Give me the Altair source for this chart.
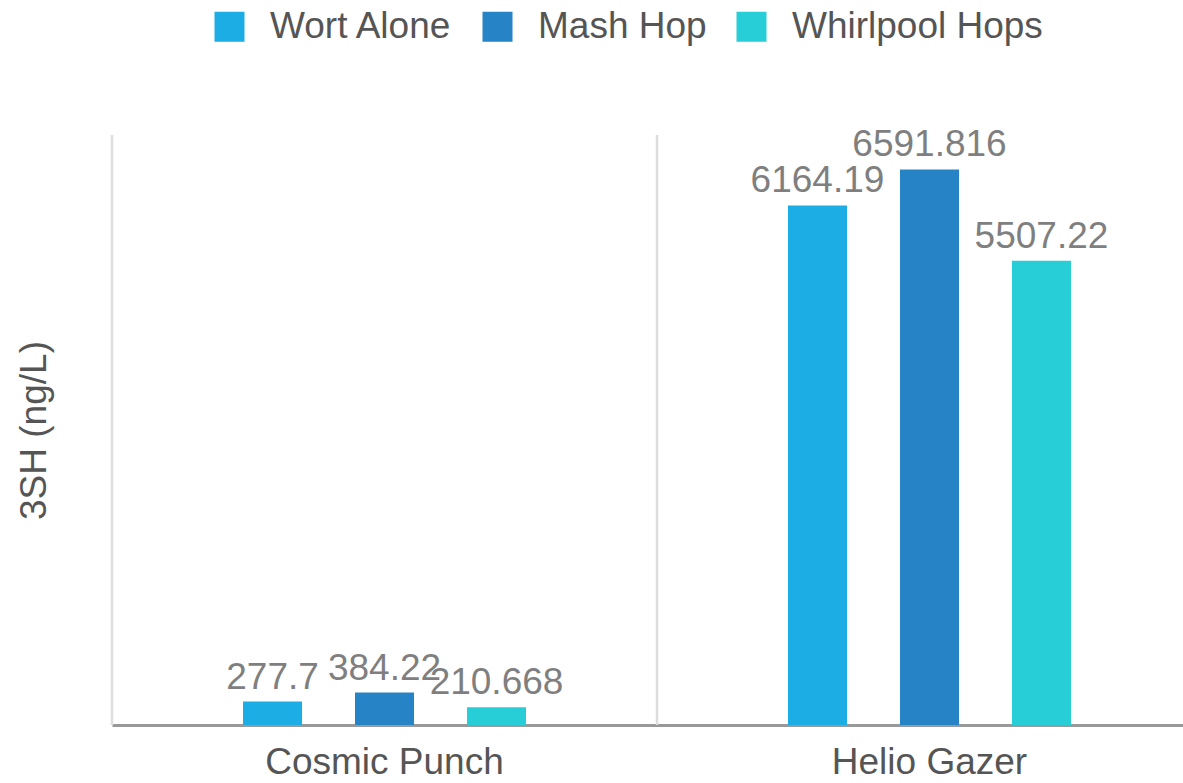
import altair as alt
import pandas as pd

categories = ["Cosmic Punch", "Helio Gazer"]
series = ["Wort Alone", "Mash Hop", "Whirlpool Hops"]
wort_alone = [277.7, 6164.19]
mash_hop = [384.22, 6591.816]
whirlpool_hops = [210.668, 5507.22]
colors = ["#1CADE4", "#2683C6", "#27CED7"]

rows = []
for i, c in enumerate(categories):
    for s, vals in zip(series, [wort_alone, mash_hop, whirlpool_hops]):
        rows.append({"cat": c, "series": s, "value": vals[i], "label": str(vals[i])})
df = pd.DataFrame(rows)
grid_df = pd.DataFrame({"cat": categories})

FONT = "Liberation Sans"
FS = 37
W, H = 1071, 590

grid_scale = alt.Scale(domain=categories, range=[0, 1090], paddingInner=0, paddingOuter=0)
xscale = alt.Scale(domain=categories, range=[0, 1090], paddingInner=0.4807, paddingOuter=0.2404)
xoff = alt.XOffset("series:N", sort=series,
                   scale=alt.Scale(domain=series, paddingInner=0.473, paddingOuter=0))
yscale = alt.Scale(domain=[0, 7000], nice=False)

grid = alt.Chart(grid_df).mark_rule(color="#dddddd", strokeWidth=2.5).encode(
    x=alt.X("cat:N", scale=grid_scale, bandPosition=0, axis=None),
    y=alt.value(0),
    y2=alt.value(H),
)

bars = alt.Chart(df).mark_bar().encode(
    x=alt.X("cat:N", scale=xscale, sort=categories, title=None,
            axis=alt.Axis(labelFontSize=FS, labelColor="#555555", labelFont=FONT,
                          ticks=False, domainColor="#999999", domainWidth=3,
                          labelPadding=19, grid=False, labelAngle=0, labelLimit=0)),
    xOffset=xoff,
    y=alt.Y("value:Q", scale=yscale, title="3SH (ng/L)",
            axis=alt.Axis(labels=False, ticks=False, domain=False, grid=False,
                          titleFontSize=FS, titleColor="#555555", titleFont=FONT,
                          titleFontWeight="normal", titlePadding=59)),
    color=alt.Color("series:N", sort=series,
                    scale=alt.Scale(domain=series, range=colors),
                    legend=alt.Legend(title=None, orient="none", direction="horizontal",
                                      legendX=99, legendY=-127,
                                      symbolType="square", symbolSize=900,
                                      symbolStrokeWidth=0, symbolOpacity=1,
                                      labelFontSize=FS, labelColor="#555555",
                                      labelFont=FONT, labelOffset=22, labelLimit=0,
                                      columnPadding=26)),
)

labels = alt.Chart(df).mark_text(fontSize=FS, color="#7f7f7f", font=FONT,
                                 baseline="alphabetic", dy=-13).encode(
    x=alt.X("cat:N", scale=xscale, sort=categories),
    xOffset=xoff,
    y=alt.Y("value:Q", scale=yscale),
    text="label:N",
)

chart = alt.layer(grid, alt.layer(bars, labels)).resolve_scale(x="independent").properties(
    width=W, height=H,
    autosize=alt.AutoSizeParams(type="none"),
    padding={"left": 112, "top": 135, "right": 0, "bottom": 58},
).configure(background="white", view=alt.ViewConfig(stroke=None))

chart.save("out.html", embed_options={"renderer": "svg", "actions": False})
